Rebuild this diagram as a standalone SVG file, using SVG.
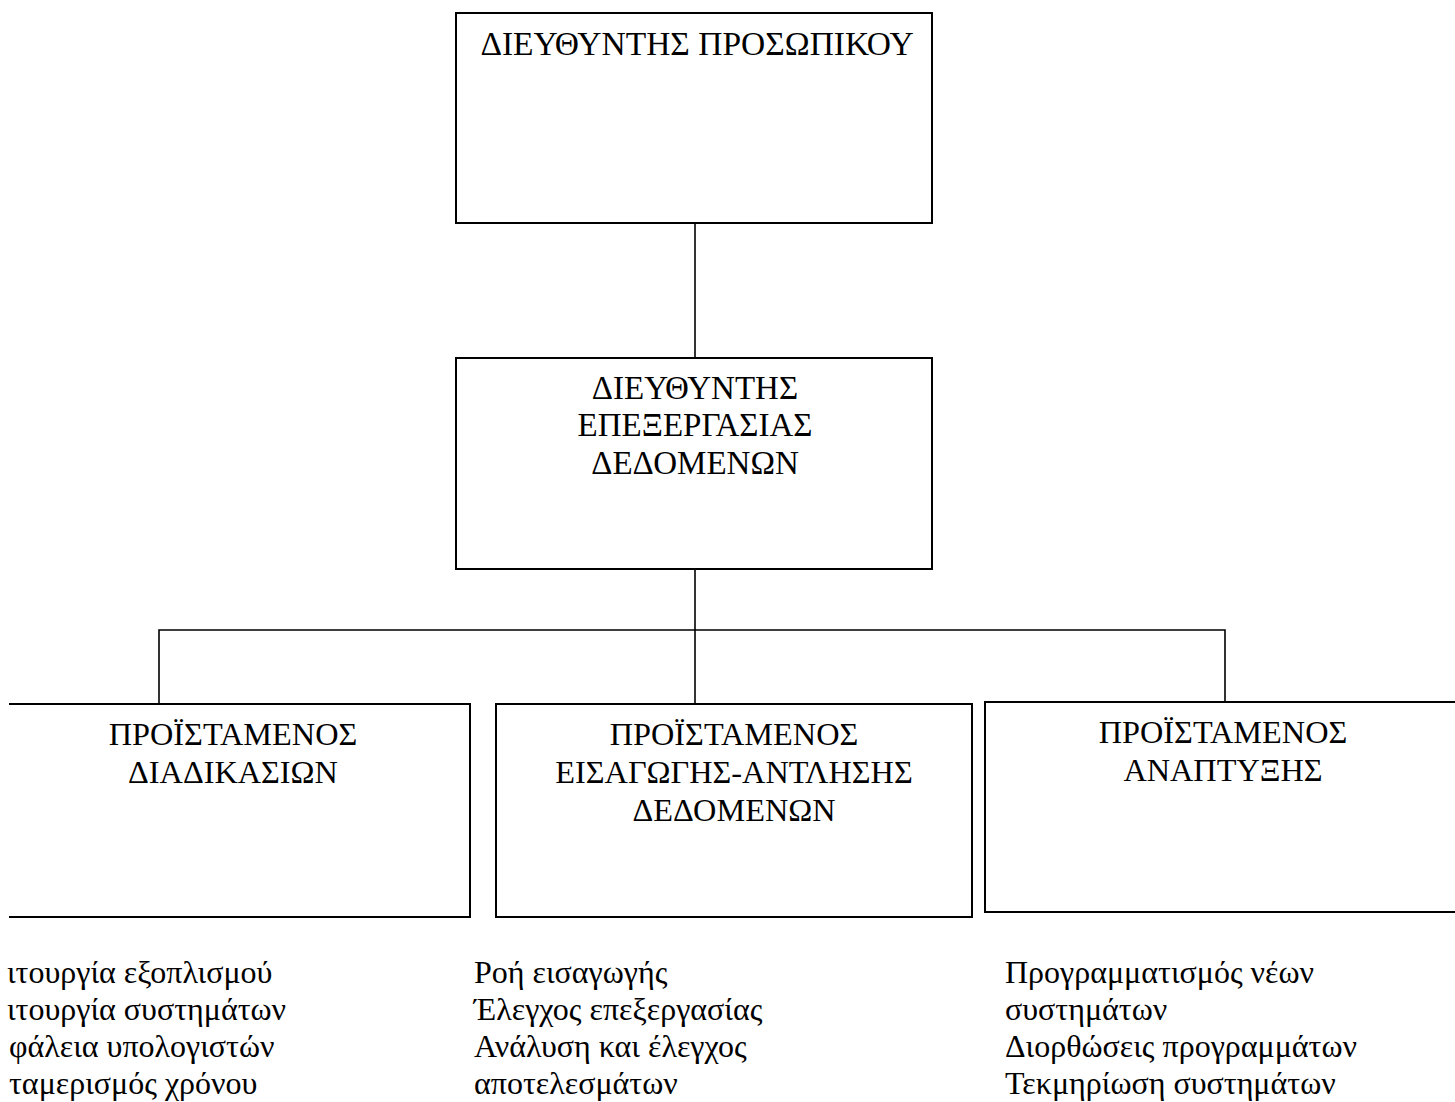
<svg xmlns="http://www.w3.org/2000/svg" width="1455" height="1102" viewBox="0 0 1455 1102">
<style>
.box{fill:#fff;stroke:#000;stroke-width:2}
.ln{fill:none;stroke:#000;stroke-width:1.6}
text{font-family:"Liberation Serif","Times New Roman",serif;font-size:32px;fill:#000}
.c{text-anchor:middle;font-size:32.3px}
.t1{font-size:33.5px}
.t2{font-size:33px}
</style>
<defs>
<clipPath id="leftclip"><rect x="9" y="0" width="1446" height="1102"/></clipPath>
</defs>
<rect width="1455" height="1102" fill="#fff"/>
<g id="connectors">
<line class="ln" x1="695" y1="223" x2="695" y2="358"/>
<line class="ln" x1="695" y1="569" x2="695" y2="704"/>
<polyline class="ln" points="159,704 159,630 1225,630 1225,702"/>
</g>
<g id="n-personnel">
<rect class="box" x="456" y="13" width="476" height="210"/>
<text class="c t1" x="697" y="55">ΔΙΕΥΘΥΝΤΗΣ ΠΡΟΣΩΠΙΚΟΥ</text>
</g>
<g id="n-dataproc">
<rect class="box" x="456" y="358" width="476" height="211"/>
<text class="c t2" x="695" y="399">ΔΙΕΥΘΥΝΤΗΣ</text>
<text class="c t2" x="695" y="436">ΕΠΕΞΕΡΓΑΣΙΑΣ</text>
<text class="c t2" x="695" y="474">ΔΕΔΟΜΕΝΩΝ</text>
</g>
<g id="n-procedures" clip-path="url(#leftclip)">
<rect class="box" x="-4" y="704" width="474" height="213"/>
<text class="c" x="233" y="745">ΠΡΟΪΣΤΑΜΕΝΟΣ</text>
<text class="c" x="233" y="783">ΔΙΑΔΙΚΑΣΙΩΝ</text>
</g>
<g id="n-input">
<rect class="box" x="496" y="704" width="476" height="213"/>
<text class="c" x="734" y="745">ΠΡΟΪΣΤΑΜΕΝΟΣ</text>
<text class="c" x="734" y="783">ΕΙΣΑΓΩΓΗΣ-ΑΝΤΛΗΣΗΣ</text>
<text class="c" x="734" y="821">ΔΕΔΟΜΕΝΩΝ</text>
</g>
<g id="n-development">
<rect class="box" x="985" y="702" width="480" height="210"/>
<text class="c" x="1223" y="743">ΠΡΟΪΣΤΑΜΕΝΟΣ</text>
<text class="c" x="1223" y="781">ΑΝΑΠΤΥΞΗΣ</text>
</g>
<g id="list-procedures">
<text x="7" y="983">ιτουργία εξοπλισμού</text>
<text x="7" y="1020">ιτουργία συστημάτων</text>
<text x="9" y="1057">φάλεια υπολογιστών</text>
<text x="9" y="1094">ταμερισμός χρόνου</text>
</g>
<g id="list-input">
<text x="474" y="983">Ροή εισαγωγής</text>
<text x="474" y="1020">Έλεγχος επεξεργασίας</text>
<text x="474" y="1057">Ανάλυση και έλεγχος</text>
<text x="474" y="1094">αποτελεσμάτων</text>
</g>
<g id="list-development">
<text x="1005" y="983">Προγραμματισμός νέων</text>
<text x="1005" y="1020">συστημάτων</text>
<text x="1005" y="1057">Διορθώσεις προγραμμάτων</text>
<text x="1005" y="1094">Τεκμηρίωση συστημάτων</text>
</g>
</svg>
